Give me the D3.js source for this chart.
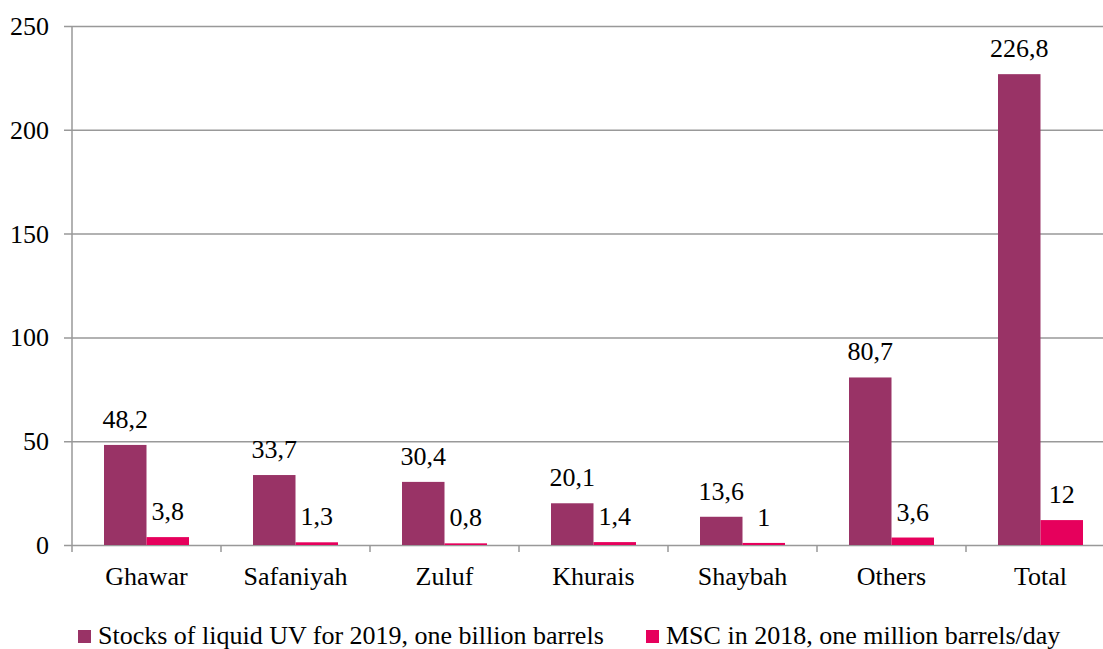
<!DOCTYPE html>
<html>
<head>
<meta charset="utf-8">
<script src="https://cdn.jsdelivr.net/npm/d3@7"></script>
<style>
  svg text { font-family: "Liberation Serif" !important; }
</style>
</head>
<body>
<div class="container"></div>
<script>
const categories = ["Ghawar", "Safaniyah", "Zuluf", "Khurais", "Shaybah", "Others", "Total"];
const stocks = [48.2, 33.7, 30.4, 20.1, 13.6, 80.7, 226.8];
const msc = [3.8, 1.3, 0.8, 1.4, 1, 3.6, 12];
const stockLabels = ["48,2", "33,7", "30,4", "20,1", "13,6", "80,7", "226,8"];
const mscLabels = ["3,8", "1,3", "0,8", "1,4", "1", "3,6", "12"];
const yTicks = [0, 50, 100, 150, 200, 250];
const seriesNames = ["Stocks of liquid UV for 2019, one billion barrels", "MSC in 2018, one million barrels/day"];
const colors = ["#993366", "#e6005c"];

const FONT = "Liberation Serif";
const W = 1103, H = 649;
const margin = {top: 26, left: 72};
const bandW = 149;
const plotW = bandW * categories.length,
    plotH = 545 - margin.top;

d3.select('body').style('margin', '0');

const svg = d3.select('.container')
    .append('svg')
    .attr('width', W)
    .attr('height', H)
    .style('display', 'block');

const g = svg.append('g')
    .attr('transform', `translate(${margin.left},${margin.top})`);

const label = (parent, x, y, txt, anchor) => {
    parent.append('text')
        .attr('x', x)
        .attr('y', y)
        .attr('text-anchor', anchor)
        .attr('font-family', FONT)
        .attr('font-size', 26)
        .style('font-family', FONT, 'important')
        .style('font-size', '26px', 'important')
        .attr('fill', '#000')
        .text(txt);
};

const x0 = d3.scaleBand()
    .domain(categories)
    .range([0, plotW]);

const x1 = d3.scaleBand()
    .domain([0, 1])
    .range([32, bandW - 32]);

const y = d3.scaleLinear()
    .domain([0, 250])
    .range([plotH, 0]);

// gridlines + y ticks
const yAxis = d3.axisLeft(y)
    .tickValues(yTicks)
    .tickSize(-plotW)
    .tickFormat('');

const yG = g.append('g').call(yAxis);
yG.select('.domain').remove();
yG.selectAll('.tick line')
    .attr('x1', -8)
    .attr('stroke', '#999')
    .attr('stroke-width', 1.5);
yTicks.forEach(t => label(g, -23, y(t) + 9, t, 'end'));

// y axis line
g.append('line')
    .attr('x1', 0).attr('x2', 0)
    .attr('y1', 0).attr('y2', plotH + 7)
    .attr('stroke', '#999')
    .attr('stroke-width', 1.5);

// x axis category boundary ticks
g.append('g')
    .selectAll('line')
    .data(categories.slice(1))
    .join('line')
    .attr('x1', d => x0(d)).attr('x2', d => x0(d))
    .attr('y1', plotH).attr('y2', plotH + 7)
    .attr('stroke', '#999')
    .attr('stroke-width', 1.5);

// bars
const series = [stocks, msc];
const labels = [stockLabels, mscLabels];

series.forEach((vals, s) => {
    g.append('g')
        .selectAll('rect')
        .data(vals)
        .join('rect')
        .attr('x', (d, i) => x0(categories[i]) + x1(s))
        .attr('y', d => y(d))
        .attr('width', x1.bandwidth())
        .attr('height', d => plotH - y(d))
        .attr('fill', colors[s]);

    vals.forEach((d, i) => label(g,
        x0(categories[i]) + x1(s) + x1.bandwidth() / 2,
        y(d) - 17, labels[s][i], 'middle'));
});

// category labels
categories.forEach(c => label(g, x0(c) + bandW / 2, plotH + 40, c, 'middle'));

// legend
const legendX = [78, 646];
seriesNames.forEach((name, i) => {
    svg.append('rect')
        .attr('x', legendX[i])
        .attr('y', 630)
        .attr('width', 13)
        .attr('height', 13)
        .attr('fill', colors[i]);
    label(svg, legendX[i] + 20, 644, name, 'start');
});
</script>
</body>
</html>
